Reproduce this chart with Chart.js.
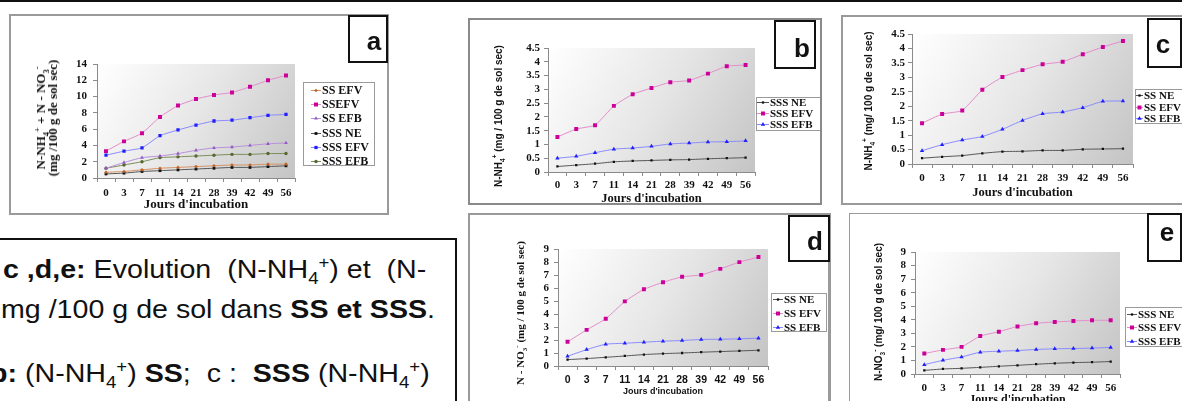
<!DOCTYPE html>
<html>
<head>
<meta charset="utf-8">
<script src="https://cdn.jsdelivr.net/npm/chart.js@4.4.0/dist/chart.umd.min.js"></script>
<style>
html, body { margin: 0; padding: 0; background: #fff; }
body { width: 1182px; height: 401px; overflow: hidden; position: relative; font-family: 'Liberation Sans', Arial, sans-serif; color: #111; }
.panel { position: absolute; box-sizing: border-box; border: 2px solid #9a9a9a; background: #fff; }
.tag { position: absolute; box-sizing: border-box; border: 2px solid #111; background: #fff; }
.tagtxt { position: absolute; width: 40px; text-align: center; font: bold 26px/26px 'Liberation Sans', Arial, sans-serif; color: #111; }
.ytitle { position: absolute; white-space: nowrap; transform: translate(-50%, -50%) rotate(-90deg); color: #111; text-align: center; }
.ytitle sub, .ytitle sup, .cap sub, .cap sup { font-size: 65%; line-height: 0; }
.serif { font-family: 'Liberation Serif', 'Times New Roman', serif; font-weight: bold; }
.sans { font-family: 'Liberation Sans', Arial, sans-serif; font-weight: bold; }
.cap { position: absolute; white-space: pre; font: 26px/30px 'Liberation Sans', Arial, sans-serif; color: #111; transform: scaleX(1.1); transform-origin: 0 50%; }
canvas { position: absolute; }
</style>
</head>
<body>

<div style="position:absolute;left:0;top:0;width:1182px;height:2px;background:#111"></div>

<!-- panels -->
<div class="panel" style="left:9px;top:14px;width:380px;height:201px"></div>
<div class="panel" style="left:468px;top:18px;width:354px;height:187px;border-color:#8a8a8a"></div>
<div class="panel" style="left:841px;top:15px;width:345px;height:190px"></div>
<div class="panel" style="left:468px;top:213px;width:363px;height:200px;border-right-width:3px"></div>
<div class="panel" style="left:849px;top:213px;width:340px;height:200px;border-width:1.5px"></div>

<!-- caption box -->
<div style="position:absolute;left:-10px;top:238px;width:467px;height:200px;box-sizing:border-box;border:2px solid #111"></div>
<div class="cap" style="left:3px;top:254px"><b>c ,d,e:</b> Evolution  (N-NH<sub>4</sub><sup>+</sup>) et  (N-</div>
<div class="cap" style="left:1px;top:294px">mg /100 g de sol dans <b>SS et SSS</b>.</div>
<div class="cap" style="left:-10px;top:358px"><b>b:</b> (N-NH<sub>4</sub><sup>+</sup>) <b>SS</b>;  c :  <b>SSS</b> (N-NH<sub>4</sub><sup>+</sup>)</div>

<canvas id="chartA"></canvas>
<canvas id="chartB"></canvas>
<canvas id="chartC"></canvas>
<canvas id="chartD"></canvas>
<canvas id="chartE"></canvas>

<!-- y axis titles -->
<div class="ytitle serif" style="left:47px;top:118px;font-size:13px;line-height:12px">N-NH<sub>4</sub><sup>+</sup> + N - NO<sub>3</sub><sup>-</sup><br>(mg /100 g de sol sec)</div>
<div class="ytitle sans" style="left:498px;top:116px;font-size:10px">N-NH<sub>4</sub><sup>+</sup> (mg / 100 g de sol sec)</div>
<div class="ytitle sans" style="left:868px;top:101px;font-size:10px">N-NH<sub>4</sub><sup>+</sup> (mg/ 100 g de sol sec)</div>
<div class="ytitle serif" style="left:520px;top:313px;font-size:11px">N - NO<sub>3</sub><sup>-</sup> (mg / 100 g de sol sec)</div>
<div class="ytitle sans" style="left:878px;top:312px;font-size:10px">N-NO<sub>3</sub><sup>-</sup> (mg/ 100 g de sol sec)</div>

<!-- panel letters -->
<div class="tag" style="left:348px;top:15px;width:40px;height:48px"></div>
<div class="tagtxt" style="left:354px;top:28px">a</div>
<div class="tag" style="left:774px;top:20px;width:42px;height:49px"></div>
<div class="tagtxt" style="left:782px;top:35px">b</div>
<div class="tag" style="left:1147px;top:18px;width:35px;height:50px"></div>
<div class="tagtxt" style="left:1143px;top:31px">c</div>
<div class="tag" style="left:788px;top:215px;width:42px;height:47px"></div>
<div class="tagtxt" style="left:795px;top:228px">d</div>
<div class="tag" style="left:1147px;top:213px;width:35px;height:49px"></div>
<div class="tagtxt" style="left:1147px;top:219px">e</div>

<script>
// incubation days (x categories)
const days = ['0', '3', '7', '11', '14', '21', '28', '39', '42', '49', '56'];

// a : N-NH4+ + N-NO3- (mg / 100 g)
const aSsEfv  = [0.7, 0.8, 1.0, 1.2, 1.3, 1.4, 1.5, 1.6, 1.6, 1.7, 1.7];
const aSsefv  = [3.3, 4.5, 5.5, 7.5, 8.9, 9.7, 10.2, 10.5, 11.2, 12.0, 12.6];
const aSsEfb  = [1.2, 1.9, 2.5, 2.7, 3.0, 3.4, 3.7, 3.8, 4.0, 4.2, 4.3];
const aSssNe  = [0.5, 0.6, 0.8, 0.9, 1.0, 1.1, 1.2, 1.3, 1.3, 1.4, 1.5];
const aSssEfv = [2.8, 3.3, 3.7, 5.2, 5.9, 6.5, 7.0, 7.1, 7.4, 7.7, 7.8];
const aSssEfb = [1.2, 1.6, 2.0, 2.5, 2.6, 2.7, 2.8, 2.9, 2.9, 3.0, 3.0];

// b : N-NH4+ in SSS
const bNe  = [0.2, 0.25, 0.3, 0.37, 0.4, 0.42, 0.44, 0.45, 0.48, 0.5, 0.52];
const bEfv = [1.27, 1.56, 1.7, 2.4, 2.82, 3.05, 3.26, 3.32, 3.57, 3.84, 3.88];
const bEfb = [0.5, 0.57, 0.7, 0.83, 0.87, 0.93, 1.02, 1.05, 1.09, 1.1, 1.13];

// c : N-NH4+ in SS
const cNe  = [0.2, 0.25, 0.29, 0.37, 0.43, 0.44, 0.47, 0.47, 0.51, 0.52, 0.53];
const cEfv = [1.41, 1.73, 1.85, 2.57, 3.01, 3.25, 3.45, 3.54, 3.8, 4.05, 4.26];
const cEfb = [0.46, 0.67, 0.83, 0.95, 1.2, 1.51, 1.74, 1.8, 1.95, 2.17, 2.18];

// d : N-NO3- in SS
const dNe  = [0.49, 0.57, 0.67, 0.77, 0.88, 0.95, 1.0, 1.06, 1.11, 1.16, 1.21];
const dEfv = [1.86, 2.78, 3.63, 4.97, 5.9, 6.44, 6.86, 7.01, 7.47, 7.99, 8.38];
const dEfb = [0.75, 1.26, 1.68, 1.75, 1.83, 1.91, 1.96, 2.04, 2.06, 2.09, 2.14];

// e : N-NO3- in SSS
const eNe  = [0.27, 0.37, 0.42, 0.49, 0.57, 0.64, 0.72, 0.79, 0.84, 0.87, 0.92];
const eEfv = [1.51, 1.78, 2.0, 2.8, 3.12, 3.51, 3.74, 3.84, 3.91, 3.96, 3.96];
const eEfb = [0.69, 1.01, 1.26, 1.61, 1.68, 1.73, 1.81, 1.86, 1.88, 1.91, 1.96];

const SERIF = "'Liberation Serif', 'Times New Roman', serif";
const SANS = "'Liberation Sans', Arial, sans-serif";

const col = {
  magenta: { pt: '#cc0099', line: '#e48ccb' },
  blue:    { pt: '#1f1fff', line: '#8a8aff' },
  black:   { pt: '#111111', line: '#555555' },
  purple:  { pt: '#9657c8', line: '#b692da' },
  olive:   { pt: '#56682e', line: '#7d8c5a' },
  orange:  { pt: '#c0622a', line: '#d49366' }
};

function series(label, data, c, style, r) {
  return {
    label: label, data: data,
    borderColor: c.line, borderWidth: 1,
    pointBackgroundColor: c.pt, pointBorderColor: c.pt, pointBorderWidth: 0,
    pointStyle: style, pointRadius: r, pointHoverRadius: r,
    tension: 0.15, fill: false
  };
}

// gradient fill of the plot area
const plotBg = {
  id: 'plotBg',
  beforeDraw(chart) {
    const { ctx, chartArea: a } = chart;
    const g = ctx.createLinearGradient(a.left, a.top, a.right, a.bottom);
    g.addColorStop(0, '#ffffff');
    g.addColorStop(0.5, '#e6e6e6');
    g.addColorStop(1, '#c4c4c4');
    ctx.save();
    ctx.fillStyle = g;
    ctx.fillRect(a.left, a.top, a.right - a.left, a.bottom - a.top);
    ctx.restore();
  }
};

// framed legend like the Excel one
const boxLegend = {
  id: 'boxLegend',
  afterDraw(chart, args, o) {
    if (!o.box) return;
    const ctx = chart.ctx, ox = o.ox, oy = o.oy;
    ctx.save();
    ctx.fillStyle = '#fff';
    ctx.fillRect(o.box.x - ox, o.box.y - oy, o.box.w, o.box.h);
    ctx.strokeStyle = '#9a9a9a';
    ctx.lineWidth = 1;
    ctx.strokeRect(o.box.x - ox + 0.5, o.box.y - oy + 0.5, o.box.w - 1, o.box.h - 1);
    ctx.font = o.font;
    ctx.textBaseline = 'middle';
    ctx.textAlign = 'left';
    chart.data.datasets.forEach((ds, i) => {
      const y = Math.round(o.rows[i] - oy) + 0.5;
      ctx.strokeStyle = ds.borderColor;
      ctx.lineWidth = 1;
      ctx.beginPath();
      ctx.moveTo(o.x0 - ox, y);
      ctx.lineTo(o.x1 - ox, y);
      ctx.stroke();
      ctx.fillStyle = ds.pointBackgroundColor;
      Chart.helpers.drawPoint(ctx, { pointStyle: ds.pointStyle, radius: ds.pointRadius, rotation: 0, borderWidth: 0 },
        (o.x0 + o.x1) / 2 - ox, y);
      ctx.fillStyle = '#111';
      ctx.fillText(ds.label, o.tx - ox, y + 0.5);
    });
    ctx.restore();
  }
};

function build(id, p) {
  const yW = p.plot.l - p.canvas.x;
  const xH = p.xTitleY - p.plot.b + p.titleFont.size * 0.6;
  const h = Math.ceil(p.plot.b + xH - p.canvas.y) + 2;
  const cv = document.getElementById(id);
  cv.width = p.canvas.w;
  cv.height = h;
  cv.style.left = p.canvas.x + 'px';
  cv.style.top = p.canvas.y + 'px';
  const axisCol = '#8a8a8a';

  new Chart(cv, {
    type: 'line',
    data: { labels: days, datasets: p.datasets },
    options: {
      responsive: false,
      animation: false,
      events: [],
      layout: {
        padding: {
          left: 0,
          top: p.plot.t - p.canvas.y,
          right: p.canvas.x + p.canvas.w - p.plot.r,
          bottom: h - (p.plot.b - p.canvas.y) - xH
        }
      },
      plugins: {
        legend: { display: false },
        tooltip: { enabled: false },
        boxLegend: Object.assign({ ox: p.canvas.x, oy: p.canvas.y }, p.legend)
      },
      scales: {
        x: {
          offset: true,
          grid: { offset: true, drawOnChartArea: false, tickLength: 4, color: axisCol },
          border: { color: axisCol },
          ticks: { font: p.xTickFont, color: '#111', padding: p.xPad, maxRotation: 0, autoSkip: false },
          title: { display: true, text: "Jours d'incubation", font: p.titleFont, color: '#111', padding: 0 },
          afterFit(s) { s.height = xH; }
        },
        y: {
          min: 0, max: p.yMax,
          grid: { drawOnChartArea: false, tickLength: 4, color: axisCol },
          border: { color: axisCol },
          ticks: { stepSize: p.yStep, autoSkip: false, font: p.yTickFont, color: '#111', padding: p.yPad, callback: v => String(v) },
          afterFit(s) { s.width = yW; }
        }
      }
    },
    plugins: [plotBg, boxLegend]
  });
}

const serifB = (s) => ({ family: SERIF, weight: 'bold', size: s });
const sansB = (s) => ({ family: SANS, weight: 'bold', size: s });

build('chartA', {
  canvas: { x: 12, y: 16, w: 374 },
  plot: { l: 97, t: 64, r: 295, b: 178 },
  yMax: 14, yStep: 2, yPad: 6, xPad: 4.5, xTitleY: 205,
  xTickFont: serifB(11), yTickFont: serifB(11), titleFont: serifB(13),
  legend: { box: { x: 303, y: 82, w: 72, h: 84 }, rows: [90, 104, 118, 133, 147, 161],
            x0: 311, x1: 321, tx: 322, font: 'bold 12px ' + SERIF },
  datasets: [
    series('SS EFV', aSsEfv, col.orange, 'rectRot', 1.8),
    series('SSEFV', aSsefv, col.magenta, 'rect', 2.8),
    series('SS EFB', aSsEfb, col.purple, 'triangle', 2.2),
    series('SSS NE', aSssNe, col.black, 'rect', 2),
    series('SSS EFV', aSssEfv, col.blue, 'rect', 2.3),
    series('SSS EFB', aSssEfb, col.olive, 'circle', 1.7)
  ]
});

build('chartB', {
  canvas: { x: 470, y: 20, w: 350 },
  plot: { l: 548, t: 48, r: 755, b: 172 },
  yMax: 4.5, yStep: 0.5, yPad: 4, xPad: 2.5, xTitleY: 199,
  xTickFont: serifB(11), yTickFont: serifB(11), titleFont: serifB(12.5),
  legend: { box: { x: 756, y: 97, w: 66, h: 34 }, rows: [102, 113, 124],
            x0: 757, x1: 769, tx: 770, font: 'bold 11px ' + SERIF },
  datasets: [
    series('SSS NE', bNe, col.black, 'rect', 1.6),
    series('SSS EFV', bEfv, col.magenta, 'rect', 2.8),
    series('SSS EFB', bEfb, col.blue, 'triangle', 2.5)
  ]
});

build('chartC', {
  canvas: { x: 843, y: 17, w: 339 },
  plot: { l: 912, t: 34, r: 1133, b: 164 },
  yMax: 4.5, yStep: 0.5, yPad: 3, xPad: 3.5, xTitleY: 193,
  xTickFont: serifB(11), yTickFont: serifB(11), titleFont: serifB(12.5),
  legend: { box: { x: 1135, y: 89, w: 60, h: 35 }, rows: [95, 107, 118],
            x0: 1136, x1: 1143, tx: 1144, font: 'bold 11px ' + SERIF },
  datasets: [
    series('SS NE', cNe, col.black, 'rect', 1.6),
    series('SS EFV', cEfv, col.magenta, 'rect', 2.8),
    series('SS EFB', cEfb, col.blue, 'triangle', 2.5)
  ]
});

build('chartD', {
  canvas: { x: 470, y: 215, w: 358 },
  plot: { l: 558, t: 249, r: 768, b: 366 },
  yMax: 9, yStep: 1, yPad: 5, xPad: 4, xTitleY: 392,
  xTickFont: sansB(10.5), yTickFont: serifB(11), titleFont: sansB(9),
  legend: { box: { x: 771, y: 293, w: 56, h: 39 }, rows: [299, 313, 327],
            x0: 773, x1: 783, tx: 784, font: 'bold 11px ' + SERIF },
  datasets: [
    series('SS NE', dNe, col.black, 'rect', 1.6),
    series('SS EFV', dEfv, col.magenta, 'rect', 2.8),
    series('SS EFB', dEfb, col.blue, 'triangle', 2.5)
  ]
});

build('chartE', {
  canvas: { x: 851, y: 215, w: 331 },
  plot: { l: 915, t: 252, r: 1120, b: 374 },
  yMax: 9, yStep: 1, yPad: 5, xPad: 3.5, xTitleY: 400,
  xTickFont: serifB(11), yTickFont: serifB(11), titleFont: serifB(12),
  legend: { box: { x: 1125, y: 307, w: 70, h: 40 }, rows: [314, 327, 341],
            x0: 1127, x1: 1137, tx: 1138, font: 'bold 11px ' + SERIF },
  datasets: [
    series('SSS NE', eNe, col.black, 'rect', 1.6),
    series('SSS EFV', eEfv, col.magenta, 'rect', 2.8),
    series('SSS EFB', eEfb, col.blue, 'triangle', 2.5)
  ]
});
</script>
</body>
</html>
